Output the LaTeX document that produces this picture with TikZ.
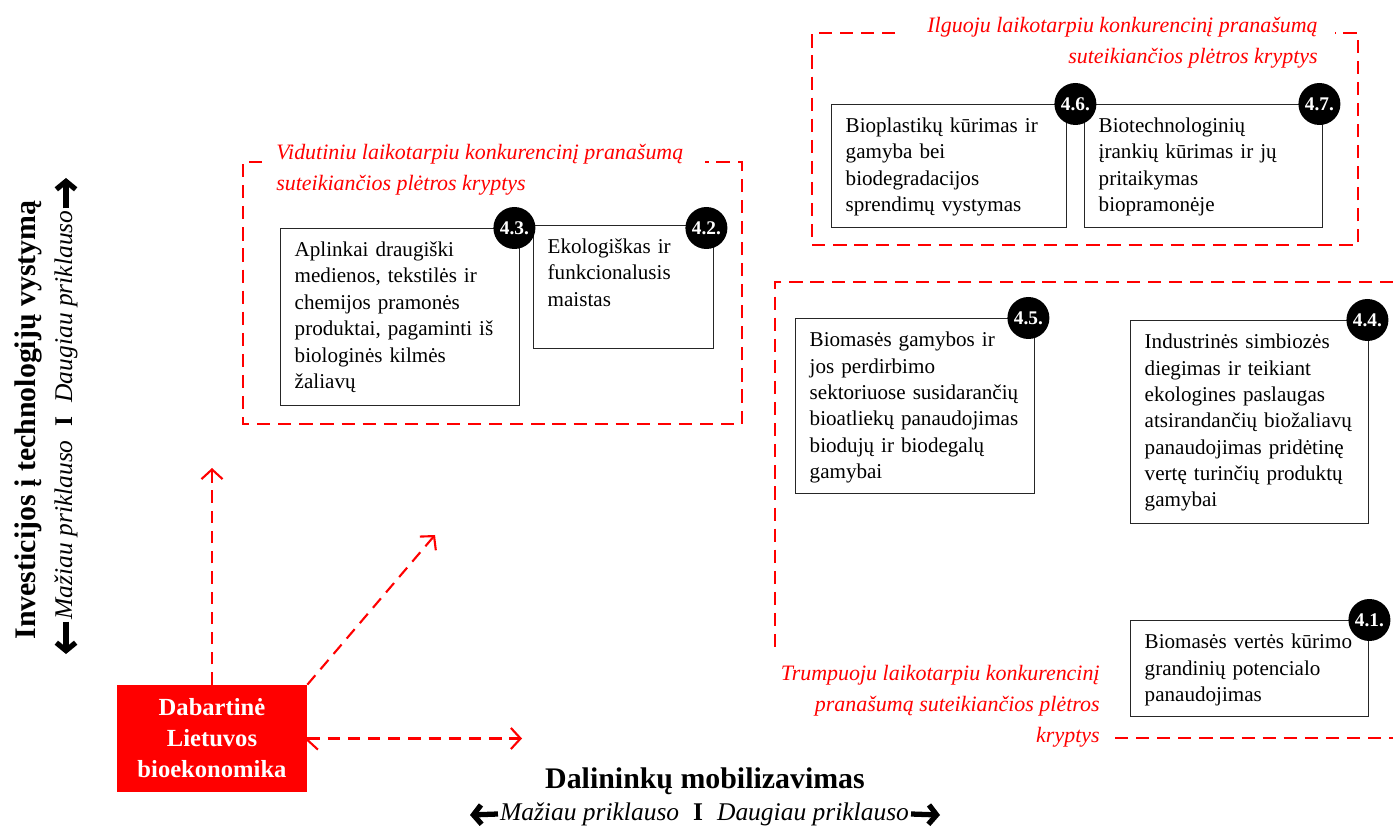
\documentclass[tikz,border=0pt]{standalone}
\usepackage{fontspec}
\setmainfont{Liberation Serif}
\usetikzlibrary{arrows.meta,positioning}

\begin{document}
\begin{tikzpicture}[x=1cm,y=-1cm,
    frame/.style={draw=red, line width=1.3pt, dash pattern=on 7.5pt off 4.5pt},
    grp/.style={font=\fontsize{12.5}{17.6}\selectfont\itshape, text=red, inner sep=0pt},
    dir/.style={draw=black!85, line width=0.8pt, anchor=north west, align=left, inner xsep=0.28cm, inner ysep=7.4pt, text height=8.5pt, font=\fontsize{12}{15}\selectfont},
    num/.style={circle, fill=black, text=white, minimum size=0.84cm, inner sep=0pt, font=\fontsize{11}{11}\selectfont\bfseries},
    move/.style={draw=red, line width=1.2pt, dash pattern=on 7pt off 4.5pt, -{Straight Barb[length=5.5pt,width=12pt]}},
    heavy/.style={line width=3pt, -{Straight Barb[length=4.5pt,width=11pt]}},
    axis/.style={font=\fontsize{17}{20}\selectfont\bfseries},
    side/.style={font=\fontsize{14.5}{17}\selectfont\itshape, inner sep=1pt}]
    \useasboundingbox (0,0) rectangle (27.86,16.64);

    \draw[frame] (17.9,0.66) -- (16.24,0.66) -- (16.24,4.90) -- (27.16,4.90) -- (27.16,0.66) -- (26.7,0.66);
    \draw[frame] (5.24,3.24) -- (4.86,3.24) -- (4.86,8.48) -- (14.84,8.48) -- (14.84,3.24) -- (14.1,3.24);
    \draw[frame] (27.86,5.64) -- (15.5,5.64) -- (15.5,13.0);
    \draw[frame] (22.3,14.76) -- (27.86,14.76);

    \node[grp, anchor=north east, align=right] (long) at (26.36,0.34) {Ilguoju laikotarpiu konkurencinį pranašumą\\suteikiančios plėtros kryptys};
    \node[grp, anchor=north west, align=left] (mid) at (5.52,2.88) {Vidutiniu laikotarpiu konkurencinį pranašumą\\suteikiančios plėtros kryptys};
    \node[grp, anchor=north east, align=right] (short) at (22.0,13.30) {Trumpuoju laikotarpiu konkurencinį\\pranašumą suteikiančios plėtros\\kryptys};

    \node[dir, text width=4.14cm, text depth=46.7pt] (d46) at (16.62,2.08) {Bioplastikų kūrimas ir\\gamyba bei\\biodegradacijos\\sprendimų vystymas};
    \node[dir, text width=4.20cm, text depth=46.7pt] (d47) at (21.68,2.08) {Biotechnologinių\\įrankių kūrimas ir jų\\pritaikymas\\biopramonėje};
    \node[dir, text width=4.22cm, text depth=77.4pt] (d43) at (5.60,4.56) {Aplinkai draugiški\\medienos, tekstilės ir\\chemijos pramonės\\produktai, pagaminti iš\\biologinės kilmės\\žaliavų};
    \node[dir, text width=3.04cm, text depth=46.7pt] (d42) at (10.66,4.50) {Ekologiškas ir\\funkcionalusis\\maistas};
    \node[dir, text width=4.22cm, text depth=76.3pt] (d45) at (15.90,6.36) {Biomasės gamybos ir\\jos perdirbimo\\sektoriuose susidarančių\\bioatliekų panaudojimas\\biodujų ir biodegalų\\gamybai};
    \node[dir, text width=4.20cm, text depth=92.2pt] (d44) at (22.60,6.40) {Industrinės simbiozės\\diegimas ir teikiant\\ekologines paslaugas\\atsirandančių biožaliavų\\panaudojimas pridėtinę\\vertę turinčių produktų\\gamybai};
    \node[dir, text width=4.20cm, text depth=31.3pt] (d41) at (22.60,12.40) {Biomasės vertės kūrimo\\grandinių potencialo\\panaudojimas};

    \node[num] (n46) at ([xshift=0.16cm]d46.north east) {4.6.};
    \node[num] (n47) at ([xshift=-0.08cm]d47.north east) {4.7.};
    \node[num] (n43) at ([xshift=-0.12cm]d43.north east) {4.3.};
    \node[num] (n42) at ([xshift=-0.16cm,yshift=-0.06cm]d42.north east) {4.2.};
    \node[num] (n45) at ([xshift=-0.14cm]d45.north east) {4.5.};
    \node[num] (n44) at ([xshift=-0.04cm]d44.north east) {4.4.};
    \node[num] (n41) at (d41.north east) {4.1.};

    \node[fill=red, minimum width=3.8cm, minimum height=2.14cm, align=center, text=white, font=\fontsize{14}{17.6}\selectfont\bfseries] (now) at (4.24,14.77) {Dabartinė\\Lietuvos\\bioekonomika};
    \coordinate (yend) at (4.24,9.36);
    \coordinate (dend) at (8.70,10.70);
    \coordinate (xend) at (10.44,14.77);
    \path[move] (now.north) edge (yend) (now.north east) edge (dend) (now.east) edge (xend);

    \node[axis] (xlab) at (14.10,15.62) {Dalininkų mobilizavimas};
    \node[side] (xsub) at (14.09,16.28) {Mažiau priklauso\hspace{0.55em}{\upshape\bfseries I}\hspace{0.55em}Daugiau priklauso};
    \coordinate (xl) at (9.40,16.30);
    \coordinate (xr) at (18.80,16.30);
    \draw[heavy] (xsub.west) -- (xl);
    \draw[heavy] (xsub.east) -- (xr);

    \node[axis, rotate=90] (ylab) at (0.56,8.40) {Investicijos į technologijų vystymą};
    \node[side, rotate=90] (ysub) at (1.32,8.30) {Mažiau priklauso\hspace{0.55em}{\upshape\bfseries I}\hspace{0.55em}Daugiau priklauso};
    \coordinate (yt) at (1.32,3.56);
    \coordinate (yb) at (1.32,13.08);
    \draw[heavy] (ysub.east) -- (yt);
    \draw[heavy] (ysub.west) -- (yb);
\end{tikzpicture}
\end{document}
